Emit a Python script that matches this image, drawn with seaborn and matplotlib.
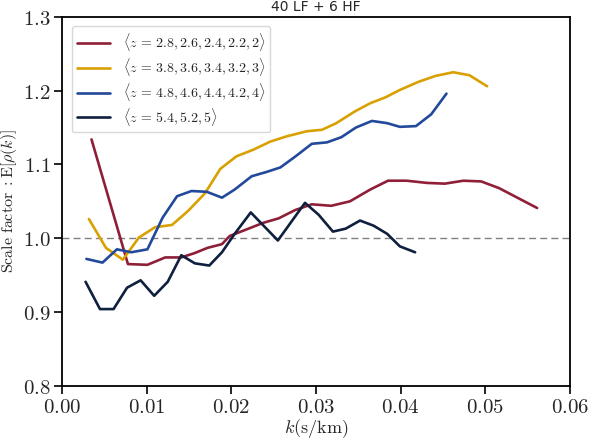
import numpy as np
import pandas as pd
import matplotlib
matplotlib.use("Agg")
import matplotlib.pyplot as plt
from matplotlib.ticker import FuncFormatter
import seaborn as sns

# ---- data ----
labels = [
    r"$\langle z\,=\,2.8, 2.6, 2.4, 2.2, 2\rangle$",
    r"$\langle z\,=\,3.8, 3.6, 3.4, 3.2, 3\rangle$",
    r"$\langle z\,=\,4.8, 4.6, 4.4, 4.2, 4\rangle$",
    r"$\langle z\,=\,5.4, 5.2, 5\rangle$",
]
colors = ["#8f1f38", "#d9a002", "#22499a", "#0f1f3e"]

k_red = [0.0035, 0.0078, 0.0101, 0.0122, 0.0141, 0.0157, 0.0172, 0.0189, 0.0198,
         0.0238, 0.0256, 0.0275, 0.0295, 0.0318, 0.0340, 0.0364, 0.0385, 0.0407,
         0.0431, 0.0452, 0.0474, 0.0495, 0.0516, 0.0561]
v_red = [1.134, 0.965, 0.964, 0.974, 0.974, 0.980, 0.987, 0.992, 1.003,
         1.021, 1.027, 1.038, 1.046, 1.044, 1.050, 1.066, 1.078, 1.078,
         1.075, 1.074, 1.078, 1.077, 1.068, 1.041]

k_yel = [0.0032, 0.0052, 0.0072, 0.0091, 0.0110, 0.0130, 0.0149, 0.0169, 0.0187,
         0.0206, 0.0226, 0.0246, 0.0265, 0.0289, 0.0307, 0.0324, 0.0346, 0.0364,
         0.0382, 0.0399, 0.0421, 0.0441, 0.0462, 0.0481, 0.0502]
v_yel = [1.026, 0.987, 0.971, 1.001, 1.015, 1.018, 1.037, 1.061, 1.094,
         1.111, 1.120, 1.131, 1.138, 1.145, 1.147, 1.156, 1.172, 1.183,
         1.191, 1.201, 1.212, 1.220, 1.225, 1.221, 1.206]

k_blu = [0.0029, 0.0048, 0.0065, 0.0082, 0.0101, 0.0119, 0.0136, 0.0153, 0.0171,
         0.0189, 0.0204, 0.0224, 0.0242, 0.0258, 0.0277, 0.0295, 0.0313, 0.0330,
         0.0347, 0.0366, 0.0384, 0.0399, 0.0418, 0.0436, 0.0454]
v_blu = [0.972, 0.967, 0.985, 0.981, 0.985, 1.028, 1.057, 1.064, 1.063,
         1.055, 1.066, 1.084, 1.090, 1.096, 1.112, 1.128, 1.130, 1.137,
         1.150, 1.159, 1.156, 1.151, 1.152, 1.168, 1.196]

k_nav = [0.0028, 0.0045, 0.0061, 0.0077, 0.0093, 0.0109, 0.0125, 0.0141, 0.0157,
         0.0174, 0.0189, 0.0204, 0.0223, 0.0255, 0.0287, 0.0303, 0.0320, 0.0335,
         0.0352, 0.0368, 0.0384, 0.0399, 0.0417]
v_nav = [0.941, 0.904, 0.904, 0.933, 0.943, 0.922, 0.941, 0.977, 0.966,
         0.963, 0.981, 1.006, 1.035, 0.997, 1.048, 1.032, 1.009, 1.013,
         1.024, 1.017, 1.006, 0.989, 0.981]

x_ticks = [0.00, 0.01, 0.02, 0.03, 0.04, 0.05, 0.06]
y_ticks = [0.8, 0.9, 1.0, 1.1, 1.2, 1.3]

frames = []
for lab, kk, vv in zip(labels, [k_red, k_yel, k_blu, k_nav], [v_red, v_yel, v_blu, v_nav]):
    frames.append(pd.DataFrame({"k": kk, "v": vv, "series": lab}))
df = pd.concat(frames, ignore_index=True)

# ---- style ----
sns.set_theme(style="ticks")
plt.rcParams["mathtext.fontset"] = "cm"
plt.rcParams["font.family"] = ["DejaVu Sans"]

fig = plt.figure(figsize=(5.89, 4.45), dpi=100)
ax = fig.add_axes([0.105, 0.133, 0.863, 0.829])

sns.lineplot(data=df, x="k", y="v", hue="series", palette=colors,
             estimator=None, sort=False, linewidth=1.9, ax=ax, legend=False)

ax.axhline(1.0, color="gray", linestyle=(0, (5, 3)), linewidth=1.0, zorder=0.5)

ax.set_xlim(0, 0.06)
ax.set_ylim(0.8, 1.3)
ax.set_xticks(x_ticks)
ax.set_yticks(y_ticks)
ax.xaxis.set_major_formatter(FuncFormatter(lambda x, p: rf"${x:.2f}$"))
ax.yaxis.set_major_formatter(FuncFormatter(lambda x, p: rf"${x:.1f}$"))
ax.tick_params(axis="both", labelsize=15, length=6, width=1.2, direction="out",
               top=False, right=False, color="black", pad=2)
for s in ax.spines.values():
    s.set_linewidth(1.3)
    s.set_color("black")

ax.set_xlabel(r"$k(\mathrm{s/km})$", fontsize=13, labelpad=0)
ax.set_ylabel(r"$\mathrm{Scale\ factor\ :E}[\rho(k)]$", fontsize=11.5, labelpad=3)
ax.set_title("40 LF + 6 HF", fontsize=10, pad=4)

handles = [plt.Line2D([], [], color=c, linewidth=1.9) for c in colors]
leg = ax.legend(handles, labels, loc="upper left", fontsize=10, frameon=True,
                fancybox=True, handlelength=2.4, borderpad=0.35, labelspacing=0.2,
                handletextpad=0.9, framealpha=1.0,
                bbox_to_anchor=(0.006, 0.993))
leg.get_frame().set_edgecolor("#d8d8d8")

fig.savefig("out.png", dpi=100)
